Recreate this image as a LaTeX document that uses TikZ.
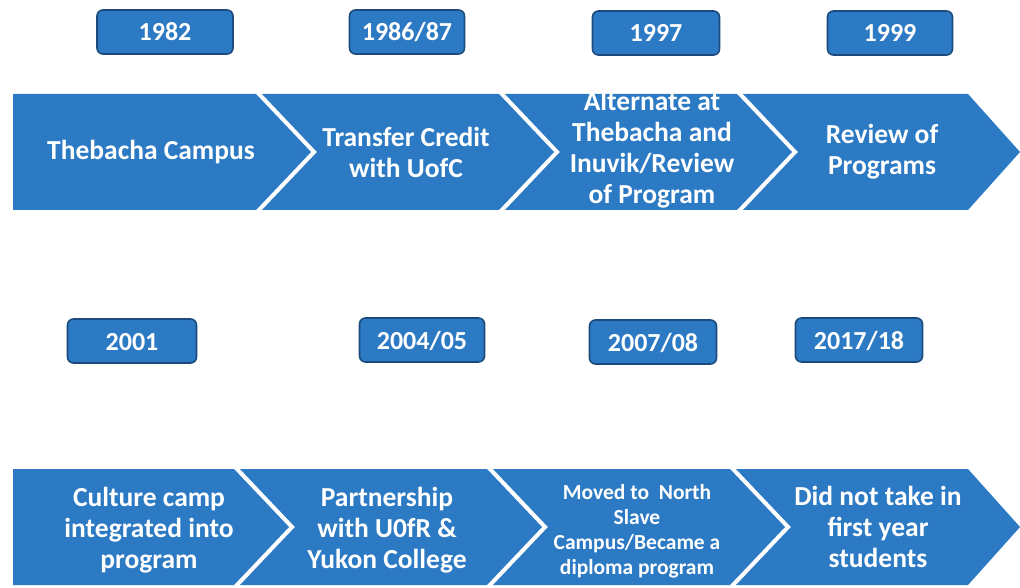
\documentclass[tikz,border=0pt]{standalone}
\usepackage{fontspec}
\setmainfont{Carlito}
\definecolor{chevblue}{RGB}{44,122,196}
\definecolor{boxedge}{RGB}{28,74,124}
\tikzset{
  chev/.style={fill=chevblue, draw=none},
  chevtext/.style={text=white, font=\bfseries\fontsize{27.5}{31}\selectfont, align=center, inner sep=0pt},
  smalltext/.style={text=white, font=\bfseries\fontsize{21.5}{25}\selectfont, align=center, inner sep=0pt},
  yearbox/.style={fill=chevblue, draw=boxedge, line width=1.6pt, rounded corners=6pt,
    text=white, font=\bfseries\fontsize{26}{28}\selectfont, minimum height=44pt, inner sep=0pt,
    text height=20pt, text depth=2pt}
}
\begin{document}
\begin{tikzpicture}[x=1pt,y=-1pt]
\useasboundingbox (0,0) rectangle (1020,588);
\fill[white] (0,0) rectangle (1020,588);
% top row chevrons (C=152, H=58, depth 55)
\fill[chev] (13,94) -- (256,94) -- (311,152) -- (256,210) -- (13,210) -- cycle;
\fill[chev] (262,94) -- (499,94) -- (554,152) -- (499,210) -- (262,210) -- (317,152) -- cycle;
\fill[chev] (505,94) -- (737,94) -- (792,152) -- (737,210) -- (505,210) -- (560,152) -- cycle;
\fill[chev] (743,94) -- (968,94) -- (1020,152) -- (968,210) -- (743,210) -- (798,152) -- cycle;
% bottom row chevrons (C=527)
\fill[chev] (13,469) -- (234,469) -- (289,527) -- (234,585) -- (13,585) -- cycle;
\fill[chev] (240,469) -- (487,469) -- (542,527) -- (487,585) -- (240,585) -- (295,527) -- cycle;
\fill[chev] (493,469) -- (730,469) -- (785,527) -- (730,585) -- (493,585) -- (548,527) -- cycle;
\fill[chev] (736,469) -- (968,469) -- (1020,527) -- (968,585) -- (736,585) -- (791,527) -- cycle;
% texts top
\node[chevtext] (t1) at (151,152) {Thebacha Campus};
\node[chevtext] (t2) at (406,152) {Transfer Credit\\with UofC};
\node[chevtext] (t3) at (652,150) {Alternate at\\Thebacha and\\Inuvik/Review\\of Program};
\node[chevtext] (t4) at (882,152) {Review of\\Programs};
% texts bottom
\node[chevtext] (b1) at (149,530) {Culture camp\\integrated into\\program};
\node[chevtext] (b2) at (387,530) {Partnership\\with U0fR \&\\Yukon College};
\node[smalltext] (b3) at (637,531) {Moved to\ \ North\\Slave\\Campus/Became a\\diploma program};
\node[chevtext] (b4) at (878,527) {Did not take in\\first year\\students};
% years
\node[yearbox, minimum width=136pt] (y1) at (165,32) {1982};
\node[yearbox, minimum width=115pt] (y2) at (407,32) {1986/87};
\node[yearbox, minimum width=127pt] (y3) at (656,33) {1997};
\node[yearbox, minimum width=125pt] (y4) at (890,33) {1999};
\node[yearbox, minimum width=129pt] (y5) at (132,341) {2001};
\node[yearbox, minimum width=125pt] (y6) at (422,340) {2004/05};
\node[yearbox, minimum width=127pt] (y7) at (653,342) {2007/08};
\node[yearbox, minimum width=127pt] (y8) at (859,340) {2017/18};
\end{tikzpicture}
\end{document}
